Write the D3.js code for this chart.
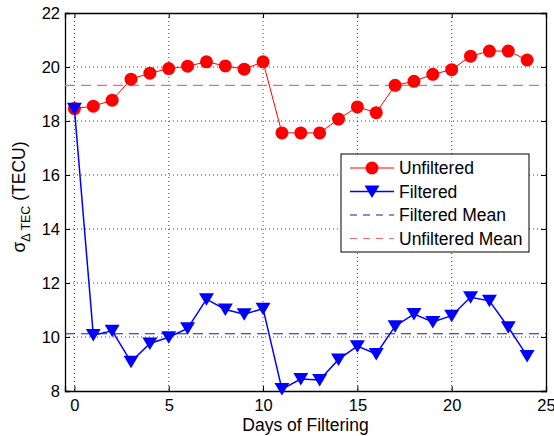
<!DOCTYPE html>
<html lang="en">
<head>
<meta charset="UTF-8">
<title>Sigma Delta TEC vs Days of Filtering</title>
<script src="https://d3js.org/d3.v7.min.js"></script>
<style>
  body, html { margin: 0; padding: 0; background: #fff; overflow: hidden; }
  text { font-family: "Liberation Sans", Arial, Helvetica, sans-serif; fill: #000; }
  .grid line { stroke: #444; stroke-width: 1; stroke-dasharray: 1,3; }
</style>
</head>
<body>
<svg id="chart" width="554" height="436"></svg>
<script>
  // data
  const days = d3.range(0, 25);
  const unfiltered = [18.46, 18.55, 18.77, 19.55, 19.77, 19.94, 20.03, 20.19, 20.04, 19.92, 20.19,
    17.56, 17.56, 17.56, 18.07, 18.52, 18.31, 19.32, 19.47, 19.73, 19.90, 20.40, 20.59, 20.59, 20.26];
  const filtered = [18.45, 10.07, 10.23, 9.08, 9.76, 9.99, 10.32, 11.40, 11.02, 10.84, 11.05,
    8.07, 8.44, 8.41, 9.17, 9.66, 9.37, 10.40, 10.85, 10.56, 10.79, 11.47, 11.34, 10.36, 9.30];
  const filteredMean = 10.12;
  const unfilteredMean = 19.32;
  const xTicks = [0, 5, 10, 15, 20, 25];
  const yTicks = [8, 10, 12, 14, 16, 18, 20, 22];
  const legendLabels = ["Unfiltered", "Filtered", "Filtered Mean", "Unfiltered Mean"];

  const margin = { left: 65, top: 13, right: 8, bottom: 45 };
  const width = 554 - margin.left - margin.right;
  const height = 436 - margin.top - margin.bottom;

  const svg = d3.select("#chart");
  const g = svg.append("g").attr("transform", `translate(${margin.left},${margin.top})`);

  const x = d3.scaleLinear().domain([-0.5, 25]).range([0, width]);
  const y = d3.scaleLinear().domain([8, 22]).range([height, 0]);

  // grid
  const grid = g.append("g").attr("class", "grid");
  grid.selectAll(".gx").data(xTicks.slice(0, -1)).enter().append("line")
    .attr("x1", d => x(d)).attr("x2", d => x(d)).attr("y1", 0).attr("y2", height);
  grid.selectAll(".gy").data(yTicks.slice(1, -1)).enter().append("line")
    .attr("x1", 0).attr("x2", width).attr("y1", d => y(d)).attr("y2", d => y(d));

  // axes, ticks pointing inward
  const fontSize = 17.5;
  const tickFont = 16.5;
  const xAxis = g.append("g").attr("transform", `translate(0,${height})`)
    .call(d3.axisBottom(x).tickValues(xTicks).tickSize(-5).tickPadding(8));
  const xTop = g.append("g").call(d3.axisTop(x).tickValues(xTicks).tickSize(-5).tickFormat(""));
  const yAxis = g.append("g").call(d3.axisLeft(y).tickValues(yTicks).tickSize(-5).tickPadding(5));
  const yRight = g.append("g").attr("transform", `translate(${width},0)`)
    .call(d3.axisRight(y).tickValues(yTicks).tickSize(-5).tickFormat(""));
  [xAxis, xTop, yAxis, yRight].forEach(a => {
    a.select(".domain").attr("stroke", "#000").attr("stroke-width", 1.3);
    a.selectAll(".tick line").attr("stroke", "#000");
    a.selectAll("text").style("font-size", tickFont + "px").attr("fill", "#000")
      .style("font-family", "'Liberation Sans', Arial, sans-serif");
  });

  // mean lines
  g.append("line").attr("x1", 0).attr("x2", width)
    .attr("y1", y(unfilteredMean)).attr("y2", y(unfilteredMean))
    .attr("stroke", "#f26b6b").attr("stroke-width", 1.2).attr("stroke-dasharray", "10,6");
  g.append("line").attr("x1", 0).attr("x2", width)
    .attr("y1", y(filteredMean)).attr("y2", y(filteredMean))
    .attr("stroke", "#1a1aa8").attr("stroke-width", 1.2).attr("stroke-dasharray", "10,6");

  const line = d3.line().x((d, i) => x(days[i])).y(d => y(d));

  // unfiltered
  g.append("path").datum(unfiltered).attr("d", line)
    .attr("fill", "none").attr("stroke", "#ff0000").attr("stroke-width", 1);
  g.selectAll(".dot").data(unfiltered).enter().append("circle")
    .attr("cx", (d, i) => x(days[i])).attr("cy", d => y(d)).attr("r", 6.5)
    .attr("fill", "#ff0000");

  // filtered
  const tri = "M-7.5,-6 L7.5,-6 L0,6.5 Z";
  g.append("path").datum(filtered).attr("d", line)
    .attr("fill", "none").attr("stroke", "#0000ff").attr("stroke-width", 1.5);
  g.selectAll(".tri").data(filtered).enter().append("path")
    .attr("d", tri)
    .attr("transform", (d, i) => `translate(${x(days[i])},${y(d)})`)
    .attr("fill", "#0000ff");

  // axis labels
  svg.append("text").attr("x", margin.left + width / 2).attr("y", 431)
    .attr("text-anchor", "middle").style("font-size", fontSize + "px").text("Days of Filtering");
  const yl = svg.append("text").attr("transform", `translate(25,197) rotate(-90)`)
    .attr("text-anchor", "middle").style("font-size", fontSize + "px");
  yl.append("tspan").text("σ");
  yl.append("tspan").attr("dy", 5).style("font-size", "12.5px").text("Δ TEC");
  yl.append("tspan").attr("dy", -5).text(" (TECU)");

  // legend
  const lg = svg.append("g").attr("transform", "translate(341,154)");
  lg.append("rect").attr("width", 188).attr("height", 98)
    .attr("fill", "#fff").attr("stroke", "#000").attr("stroke-width", 1);
  const rowsY = [14, 37.5, 61, 84.5];
  const styles = [
    { color: "#ff0000", dash: null, w: 1, marker: "circle" },
    { color: "#0000ff", dash: null, w: 1.5, marker: "tri" },
    { color: "#1a1aa8", dash: "7,6", w: 1.2, marker: null },
    { color: "#f26b6b", dash: "7,6", w: 1.2, marker: null }
  ];
  legendLabels.forEach((lab, i) => {
    const s = styles[i];
    const row = lg.append("g").attr("transform", `translate(0,${rowsY[i]})`);
    row.append("line").attr("x1", 9).attr("x2", 53).attr("stroke", s.color)
      .attr("stroke-width", s.w).attr("stroke-dasharray", s.dash);
    if (s.marker === "circle") row.append("circle").attr("cx", 31).attr("r", 6.5).attr("fill", s.color);
    if (s.marker === "tri") row.append("path").attr("d", tri).attr("transform", "translate(31,0)").attr("fill", s.color);
    row.append("text").attr("x", 58).attr("dy", "0.35em").style("font-size", fontSize + "px").text(lab);
  });
</script>
</body>
</html>
